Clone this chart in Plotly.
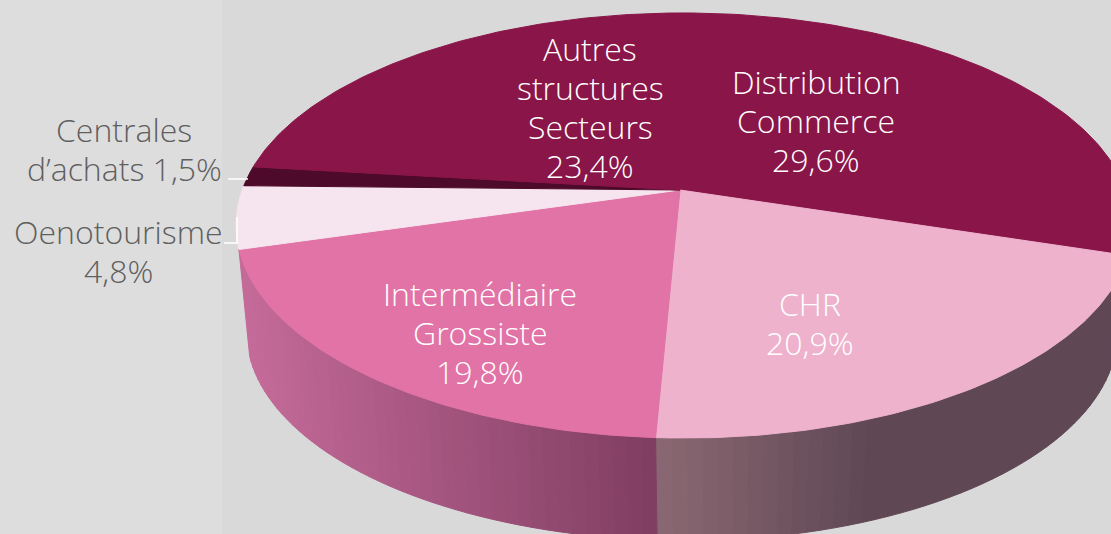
import numpy as np
import plotly.graph_objects as go

# --- data -------------------------------------------------------------
categories = ["Distribution Commerce", "CHR", "Intermédiaire Grossiste",
              "Oenotourisme", "Centrales d'achats", "Autres structures Secteurs"]
values = [29.6, 20.9, 19.8, 4.8, 1.5, 23.4]
colors = ["#8a1548", "#eeb2cd", "#e173a6", "#f6e4ee", "#4d0a2a", "#8a1548"]
labels = ["Distribution<br>Commerce<br>29,6%", "CHR<br>20,9%", "Intermédiaire<br>Grossiste<br>19,8%",
          "Oenotourisme<br>4,8%", "Centrales<br>d’achats 1,5%", "Autres<br>structures<br>Secteurs<br>23,4%"]
label_xy = [(816, 120), (810, 323), (480, 332), (118, 251), (124, 149), (590, 107)]
label_col = ["#ffffff", "#ffffff", "#ffffff", "#5f5f5f", "#5f5f5f", "#ffffff"]
start_angle = -17.4 + 29.6 * 3.6
W, H = 1111, 534

# --- perspective disc ---------------------------------------------------
K, M, A, B = 0.167, -0.0089, 206.6, 441.7
AX, AY = 680.0, 190.0

def top(t):
    t = np.radians(t)
    u, v = np.cos(t), np.sin(t)
    d = 1 + K * v + M * u
    return AX + B * u / d, AY - A * v / d

def bottom(t):
    x, y = top(t)
    sx = np.where(x < AX, 0.978, 0.965)
    return 681 + sx * (x - AX), 298 + 0.978 * (y - AY)

def lerp(c1, c2, f):
    f = min(max(f, 0), 1)
    return "rgb(%d,%d,%d)" % tuple(round(a + (b - a) * f) for a, b in zip(c1, c2))

edges = start_angle - np.cumsum([0] + [v * 3.6 for v in values])

fig = go.Figure()

def poly(xs, ys, color, lw=0):
    fig.add_trace(go.Scatter(x=list(xs), y=list(ys), mode="lines", fill="toself", fillcolor=color,
                             line=dict(color=color, width=lw), hoverinfo="skip", showlegend=False))

# side wall: CHR and Intermediaire
side = [(1, (138, 104, 114), (95, 72, 84), 660, 870),
        (2, (196, 106, 153), (127, 61, 97), 245, 660)]
for idx, c1, c2, x0, x1 in side:
    ts = np.linspace(edges[idx], edges[idx + 1], 46)
    for a, b in zip(ts[:-1], ts[1:]):
        xa, ya = top(a); xb, yb = top(b)
        xc, yc = bottom(b); xd, yd = bottom(a)
        col = lerp(c1, c2, ((xa + xb) / 2 - x0) / (x1 - x0))
        poly([xa, xb, float(xc), float(xd), xa], [ya, yb, yc, yd, ya], col, 1)

# top face
for i, col in enumerate(colors):
    ts = np.linspace(edges[i], edges[i + 1], 90)
    px, py = top(ts)
    poly(np.r_[AX, px, AX], np.r_[AY, py, AY], col, 1)

LINE = 39
annotations = []
for t, (x, y), c in zip(labels, label_xy, label_col):
    rows = t.split("<br>")
    for i, row in enumerate(rows):
        annotations.append(dict(x=x, y=y + (i - (len(rows) - 1) / 2) * LINE, xref="x", yref="y", text=row,
                                showarrow=False, align="center", xanchor="center", yanchor="middle",
                                font=dict(family="Open Sans", size=32, color=c, weight=300)))

leaders = [((228, 179), (248, 179)), ((224, 243), (238, 243)), ((237, 217), (237, 243))]
shapes = [dict(type="rect", xref="x", yref="y", x0=0, x1=222, y0=0, y1=H, layer="below",
               fillcolor="#dddddd", line_width=0)]
shapes += [dict(type="line", xref="x", yref="y", x0=a[0], y0=a[1], x1=b[0], y1=b[1],
                line=dict(color="#ffffff", width=1.5)) for a, b in leaders]

fig.update_layout(width=W, height=H, margin=dict(l=0, r=0, t=0, b=0), autosize=False,
                  paper_bgcolor="#d9d9d9", plot_bgcolor="#d9d9d9", showlegend=False,
                  xaxis=dict(range=[0, W], visible=False, fixedrange=True),
                  yaxis=dict(range=[H, 0], visible=False, fixedrange=True),
                  annotations=annotations, shapes=shapes)
fig.write_html("out.html", config={"displayModeBar": False},
               post_script="document.body.style.margin='0';document.body.style.overflow='hidden';")
